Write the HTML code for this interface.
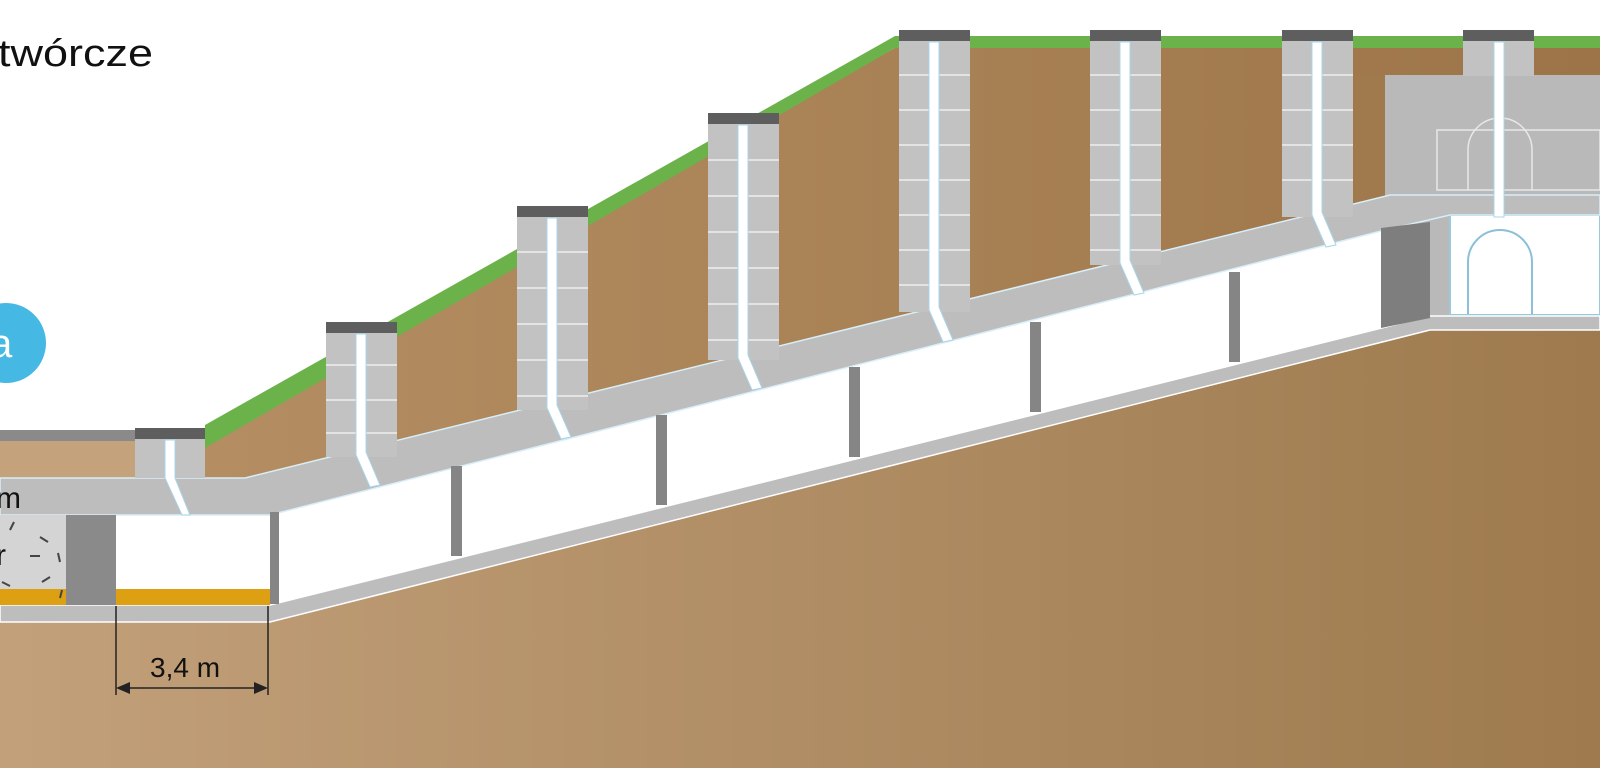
<!DOCTYPE html>
<html><head><meta charset="utf-8"><style>
html,body{margin:0;padding:0;background:#fff;}
svg{display:block;}
</style></head><body>
<svg width="1600" height="768" viewBox="0 0 1600 768" xmlns="http://www.w3.org/2000/svg" font-family="Liberation Sans, sans-serif">
<defs>
<linearGradient id="g" x1="0" y1="0" x2="1" y2="0">
<stop offset="0" stop-color="#c2a07a"/><stop offset="1" stop-color="#9e7a4e"/>
</linearGradient>
<linearGradient id="s" x1="0" y1="0" x2="1" y2="0">
<stop offset="0" stop-color="#b48e62"/><stop offset="1" stop-color="#9c7448"/>
</linearGradient>
</defs>
<rect width="1600" height="768" fill="#fff"/>
<!-- ground -->
<polygon points="0,622 270,622 1430,330 1600,330 1600,768 0,768" fill="url(#g)"/>
<!-- soil above roof -->
<polygon points="205,430 895,48 1600,48 1600,75 1385,75 1385,198 245,478 205,478" fill="url(#s)"/>
<rect x="0" y="440" width="140" height="40" fill="#c4a37c"/>
<rect x="0" y="430" width="140" height="11" fill="#8a8a8a"/>
<!-- grass -->
<polygon points="205,425 895,36 1600,36 1600,48 895,48 205,448" fill="#6cb24a"/>
<!-- right building -->
<rect x="1385" y="75" width="215" height="255" fill="#b9b9b9"/>
<polygon points="1355,75 1385,75 1385,200 1355,206" fill="#a07a4c"/>
<rect x="1437" y="130" width="163" height="60" fill="none" stroke="#e8e8e8" stroke-width="1.5"/>
<path d="M1468,190 V150 A32,32 0 0 1 1532,150 V190" fill="none" stroke="#e8e8e8" stroke-width="1.5"/>
<rect x="1450" y="215" width="150" height="100" fill="#fff" stroke="#9cc8dc" stroke-width="2"/>
<path d="M1468,314 V262 A32,32 0 0 1 1532,262 V314" fill="none" stroke="#8cc0d8" stroke-width="2"/>
<!-- interior white space -->
<polygon points="115,515 270,515 1385,240 1385,325 270,600 115,600" fill="#fff"/>
<!-- lower slab -->
<polygon points="0,605 270,605 1430,316 1600,316 1600,330 1430,330 270,622 0,622" fill="#bdbdbd" stroke="#fff" stroke-width="1.5"/>
<!-- orange floor -->
<rect x="0" y="589" width="270" height="16" fill="#dca012"/>
<!-- roof slab -->
<polygon points="0,478 245,478 1390,195 1600,195 1600,215 1450,215 1385,230 270,515 0,515" fill="#bdbdbd" stroke="#d8eef8" stroke-width="1.5"/>
<!-- gravel -->
<rect x="0" y="515" width="66" height="74" fill="#d4d4d4"/>
<g stroke="#444" stroke-width="2">
<line x1="10" y1="530" x2="14" y2="522"/><line x1="40" y1="537" x2="48" y2="542"/><line x1="30" y1="556" x2="40" y2="556"/><line x1="58" y1="553" x2="60" y2="562"/><line x1="42" y1="582" x2="50" y2="577"/><line x1="2" y1="582" x2="10" y2="586"/><line x1="62" y1="590" x2="60" y2="598"/>
</g>
<!-- columns -->
<rect x="66" y="515" width="50" height="90" fill="#8a8a8a"/>
<g fill="#858585">
<rect x="270" y="512" width="9" height="92"/>
<rect x="451" y="466" width="11" height="90"/>
<rect x="656" y="415" width="11" height="90"/>
<rect x="849" y="367" width="11" height="90"/>
<rect x="1030" y="322" width="11" height="90"/>
<rect x="1229" y="272" width="11" height="90"/>
</g>
<polygon points="1381,228 1430,222 1430,318 1381,328" fill="#7e7e7e"/>
<!-- pillars -->
<g id="pillars">
<g>
<rect x="135" y="438" width="70" height="40" fill="#c2c2c2"/>
<rect x="135" y="428" width="70" height="11" fill="#5e5e5e"/>
<polygon points="165,440 175,440 175,478 190,515 182,515 165,478" fill="#fff" stroke="#a8d4e8"/>
</g>
<g>
<rect x="326" y="332" width="71" height="125" fill="#c2c2c2"/>
<g stroke="#eee" stroke-width="1.5"><line x1="326" y1="365" x2="397" y2="365"/><line x1="326" y1="400" x2="397" y2="400"/><line x1="326" y1="433" x2="397" y2="433"/></g>
<rect x="326" y="322" width="71" height="11" fill="#5e5e5e"/>
<polygon points="356,334 366,334 366,452 380,485 370,487 356,455" fill="#fff" stroke="#a8d4e8"/>
</g>
<g>
<rect x="517" y="216" width="71" height="194" fill="#c2c2c2"/>
<g stroke="#eee" stroke-width="1.5"><line x1="517" y1="252" x2="588" y2="252"/><line x1="517" y1="288" x2="588" y2="288"/><line x1="517" y1="324" x2="588" y2="324"/><line x1="517" y1="360" x2="588" y2="360"/><line x1="517" y1="396" x2="588" y2="396"/></g>
<rect x="517" y="206" width="71" height="11" fill="#5e5e5e"/>
<polygon points="547,218 557,218 557,405 571,437 561,439 547,408" fill="#fff" stroke="#a8d4e8"/>
</g>
<g>
<rect x="708" y="123" width="71" height="237" fill="#c2c2c2"/>
<g stroke="#eee" stroke-width="1.5"><line x1="708" y1="160" x2="779" y2="160"/><line x1="708" y1="196" x2="779" y2="196"/><line x1="708" y1="232" x2="779" y2="232"/><line x1="708" y1="268" x2="779" y2="268"/><line x1="708" y1="304" x2="779" y2="304"/><line x1="708" y1="340" x2="779" y2="340"/></g>
<rect x="708" y="113" width="71" height="11" fill="#5e5e5e"/>
<polygon points="738,125 748,125 748,355 762,388 752,390 738,358" fill="#fff" stroke="#a8d4e8"/>
</g>
<g>
<rect x="899" y="40" width="71" height="272" fill="#c2c2c2"/>
<g stroke="#eee" stroke-width="1.5"><line x1="899" y1="75" x2="970" y2="75"/><line x1="899" y1="110" x2="970" y2="110"/><line x1="899" y1="145" x2="970" y2="145"/><line x1="899" y1="180" x2="970" y2="180"/><line x1="899" y1="215" x2="970" y2="215"/><line x1="899" y1="250" x2="970" y2="250"/><line x1="899" y1="285" x2="970" y2="285"/></g>
<rect x="899" y="30" width="71" height="11" fill="#5e5e5e"/>
<polygon points="929,42 939,42 939,307 953,340 943,342 929,310" fill="#fff" stroke="#a8d4e8"/>
</g>
<g>
<rect x="1090" y="40" width="71" height="225" fill="#c2c2c2"/>
<g stroke="#eee" stroke-width="1.5"><line x1="1090" y1="75" x2="1161" y2="75"/><line x1="1090" y1="110" x2="1161" y2="110"/><line x1="1090" y1="145" x2="1161" y2="145"/><line x1="1090" y1="180" x2="1161" y2="180"/><line x1="1090" y1="215" x2="1161" y2="215"/><line x1="1090" y1="250" x2="1161" y2="250"/></g>
<rect x="1090" y="30" width="71" height="11" fill="#5e5e5e"/>
<polygon points="1120,42 1130,42 1130,260 1144,293 1134,295 1120,263" fill="#fff" stroke="#a8d4e8"/>
</g>
<g>
<rect x="1282" y="40" width="71" height="177" fill="#c2c2c2"/>
<g stroke="#eee" stroke-width="1.5"><line x1="1282" y1="75" x2="1353" y2="75"/><line x1="1282" y1="110" x2="1353" y2="110"/><line x1="1282" y1="145" x2="1353" y2="145"/><line x1="1282" y1="180" x2="1353" y2="180"/></g>
<rect x="1282" y="30" width="71" height="11" fill="#5e5e5e"/>
<polygon points="1312,42 1322,42 1322,212 1336,245 1326,247 1312,215" fill="#fff" stroke="#a8d4e8"/>
</g>
<g>
<rect x="1463" y="40" width="71" height="36" fill="#c2c2c2"/>
<rect x="1463" y="30" width="71" height="11" fill="#5e5e5e"/>
<rect x="1494" y="42" width="10" height="175" fill="#fff" stroke="#a8d4e8"/>
</g>
</g>
<!-- dimension -->
<g stroke="#222" stroke-width="1.5">
<line x1="116" y1="606" x2="116" y2="695"/>
<line x1="268" y1="606" x2="268" y2="695"/>
<line x1="122" y1="688" x2="262" y2="688"/>
</g>
<polygon points="116,688 130,682 130,694" fill="#222"/>
<polygon points="268,688 254,682 254,694" fill="#222"/>
<text x="150" y="677" font-size="28" fill="#111">3,4 m</text>
<text x="-4" y="508" font-size="30" fill="#111">m</text>
<text x="-4" y="565" font-size="30" fill="#111">r</text>
<!-- title -->
<text x="-2" y="66" font-size="38" fill="#111" textLength="155" lengthAdjust="spacingAndGlyphs">twórcze</text>
<circle cx="6" cy="343" r="40" fill="#45b8e4"/>
<text x="-10" y="357" font-size="40" fill="#fff">a</text>
</svg>
</body></html>
